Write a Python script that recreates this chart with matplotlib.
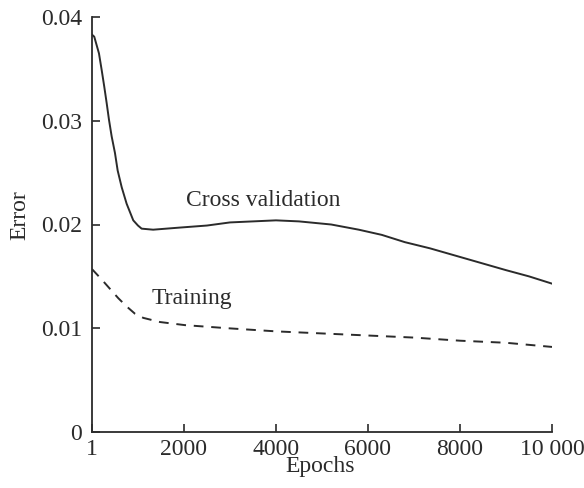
import matplotlib
matplotlib.use("Agg")
import matplotlib.pyplot as plt

plt.rcParams['font.family'] = ['Liberation Serif', 'DejaVu Serif']

# values
cv_epochs = [1, 50, 152, 211, 267, 320, 370, 428, 500, 559, 646, 754, 898, 1000, 1080,
             1330, 1900, 2500, 3000, 3500, 4000, 4500, 5200, 5800, 6300, 6800, 7350,
             7900, 8450, 9000, 9500, 10000]
cv_error = [0.0383, 0.0381, 0.0365, 0.0349, 0.0333, 0.0317, 0.0301, 0.0285, 0.0269,
            0.0252, 0.0236, 0.0220, 0.0204, 0.0199, 0.0196, 0.0195, 0.0197, 0.0199,
            0.0202, 0.0203, 0.0204, 0.0203, 0.0200, 0.0195, 0.0190, 0.0183, 0.0177,
            0.0170, 0.0163, 0.0156, 0.0150, 0.0143]

tr_epochs = [1, 211, 391, 572, 754, 935, 1116, 1478, 2022, 2957, 4000, 5000, 6000,
             7000, 8000, 9000, 10000]
tr_error = [0.0157, 0.0147, 0.0138, 0.0129, 0.0121, 0.0114, 0.0110, 0.0106, 0.0103,
            0.0100, 0.0097, 0.0095, 0.0093, 0.0091, 0.0088, 0.0086, 0.0082]

xticks = [1, 2000, 4000, 6000, 8000, 10000]
xtick_labels = ['1', '2000', '4000', '6000', '8000', '10 000']
yticks = [0, 0.01, 0.02, 0.03, 0.04]
ytick_labels = ['0', '0.01', '0.02', '0.03', '0.04']

ink = '#2b2b2b'

fig = plt.figure(figsize=(5.84, 4.88), dpi=100)
ax = fig.add_axes([92/584, 56/488, 460/584, 415/488])

ax.plot(cv_epochs, cv_error, color=ink, lw=1.4)
ax.plot(tr_epochs, tr_error, color=ink, lw=1.4, ls=(0, (5, 4)))

ax.text(3720, 0.0223, 'Cross validation', fontsize=17, color=ink, ha='center', va='center')
ax.text(2170, 0.0129, 'Training', fontsize=17, color=ink, ha='center', va='center')

ax.set_xlim(1, 10000)
ax.set_ylim(0, 0.04)
ax.set_xticks(xticks)
ax.set_xticklabels(xtick_labels)
ax.set_yticks(yticks)
ax.set_yticklabels(ytick_labels)
ax.tick_params(direction='in', length=6, width=1.2, labelsize=17, colors=ink)
ax.tick_params(axis='x', pad=5)
ax.tick_params(axis='y', pad=7)

for s in ['top', 'right']:
    ax.spines[s].set_visible(False)
for s in ['left', 'bottom']:
    ax.spines[s].set_linewidth(1.3)
    ax.spines[s].set_color(ink)

ax.set_xlabel('Epochs', fontsize=17, color=ink)
ax.set_ylabel('Error', fontsize=17, color=ink)
ax.xaxis.set_label_coords(0.4957, -0.0843)
ax.xaxis.label.set_va('center')
ax.yaxis.set_label_coords(-0.1565, 0.523)
ax.yaxis.label.set_va('center')

fig.savefig('out.png', dpi=100)
